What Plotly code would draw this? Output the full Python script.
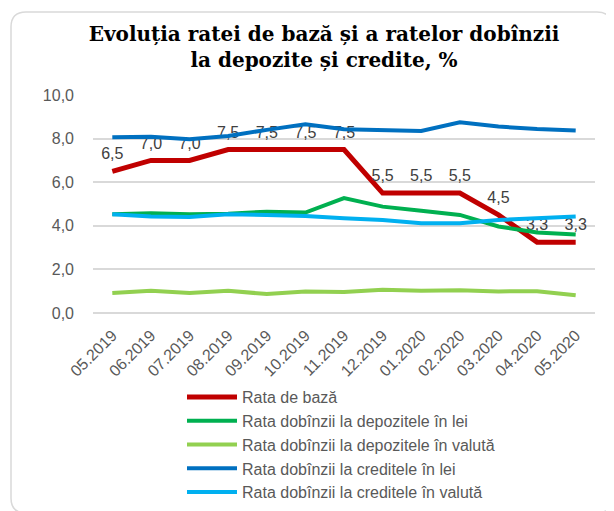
import plotly.graph_objects as go

months = ["05.2019", "06.2019", "07.2019", "08.2019", "09.2019", "10.2019", "11.2019",
          "12.2019", "01.2020", "02.2020", "03.2020", "04.2020", "05.2020"]

rata_baza = [6.5, 7.0, 7.0, 7.5, 7.5, 7.5, 7.5, 5.5, 5.5, 5.5, 4.5, 3.25, 3.25]
dep_lei = [4.53, 4.58, 4.53, 4.55, 4.65, 4.61, 5.27, 4.88, 4.69, 4.50, 3.97, 3.69, 3.60]
dep_valuta = [0.92, 1.02, 0.92, 1.02, 0.87, 0.99, 0.96, 1.07, 1.02, 1.04, 0.99, 1.00, 0.81]
cred_lei = [8.06, 8.09, 7.97, 8.12, 8.40, 8.66, 8.43, 8.37, 8.35, 8.75, 8.55, 8.44, 8.37]
cred_valuta = [4.53, 4.43, 4.40, 4.53, 4.50, 4.45, 4.35, 4.27, 4.12, 4.12, 4.27, 4.35, 4.43]

names = ["Rata de bază",
         "Rata dobînzii la depozitele în lei",
         "Rata dobînzii la depozitele în valută",
         "Rata dobînzii la creditele în lei",
         "Rata dobînzii la creditele în valută"]
colors = ["#C00000", "#00B050", "#92D050", "#0070C0", "#00B0F0"]
widths = [5, 4, 4, 4, 4]
series = [rata_baza, dep_lei, dep_valuta, cred_lei, cred_valuta]

# page has an 8px body margin; positions below are in page pixels
OFF = 8
W, H = 614, 511
ML, MR, MT, MB = 93 - OFF, 19 + OFF, 95 - OFF, 198 + OFF
PW, PH = W - ML - MR, H - MT - MB
FONT = "Liberation Sans"
FS = 16

def px(x):
    return (x - OFF - ML) / PW

def py(y):
    return (H - MB - (y - OFF)) / PH

fig = go.Figure()
for i in range(5):
    if i == 0:
        kw = dict(mode="lines+markers+text", texttemplate="%{y:.1f}", textposition="top center",
                  marker=dict(size=11, color="rgba(0,0,0,0)"),
                  textfont=dict(family=FONT, size=FS, color="#404040"))
    else:
        kw = dict(mode="lines")
    fig.add_trace(go.Scatter(x=months, y=series[i], name=names[i],
                             line=dict(color=colors[i], width=widths[i]),
                             cliponaxis=False, **kw))

# rounded chart-area border
l, t, r, b, rad = px(11), py(12), px(612), py(513), 15
rx, ry = rad / PW, rad / PH
path = (f"M {l+rx} {t} L {r-rx} {t} Q {r} {t} {r} {t-ry} L {r} {b+ry} Q {r} {b} {r-rx} {b} "
        f"L {l+rx} {b} Q {l} {b} {l} {b+ry} L {l} {t-ry} Q {l} {t} {l+rx} {t} Z")

fig.update_layout(
    width=W, height=H,
    margin=dict(l=ML, r=MR, t=MT, b=MB, autoexpand=False),
    paper_bgcolor="white", plot_bgcolor="white",
    separators=", ",
    title=dict(text="<b>Evoluția ratei de bază și a ratelor dobînzii<br>la depozite și credite, %</b>",
               x=(324 - OFF) / W, xanchor="center", xref="container",
               y=1 - (41 - OFF) / H, yanchor="top",
               font=dict(family="DejaVu Serif", size=20, color="black")),
    xaxis=dict(type="category", range=[-0.5, 12.5], tickangle=-45, showgrid=False,
               showline=False, ticks="", ticklabelstandoff=9, automargin=False,
               tickfont=dict(family=FONT, size=FS, color="#595959")),
    yaxis=dict(range=[0, 10], dtick=2, tickformat=".1f", showgrid=True, gridcolor="#D9D9D9",
               gridwidth=1.5, zeroline=True, zerolinecolor="#D9D9D9", zerolinewidth=1.5,
               showline=False, ticks="", ticklabelstandoff=18, automargin=False,
               tickfont=dict(family=FONT, size=FS, color="#595959")),
    showlegend=True,
    legend=dict(x=(182 - OFF) / W, xref="container", xanchor="left",
                y=1 - (380 - OFF) / H, yref="container", yanchor="top", traceorder="normal",
                font=dict(family=FONT, size=FS, color="#595959"), itemwidth=50,
                bgcolor="rgba(0,0,0,0)", tracegroupgap=0),
    shapes=[dict(type="path", path=path, xref="paper", yref="paper",
                 line=dict(color="#D9D9D9", width=1.5), layer="below")],
)

fig.write_html("out.html")
